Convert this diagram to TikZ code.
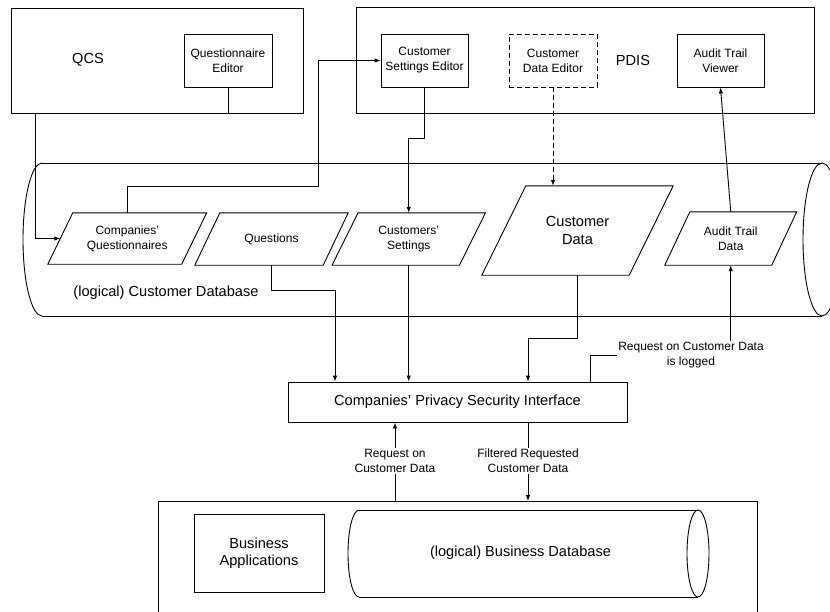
\documentclass[tikz,border=0pt]{standalone}
\usepackage{fontspec}
\setmainfont{Liberation Sans}
\usetikzlibrary{arrows.meta,calc}
\newcommand\smallfont{\fontsize{12}{15}\selectfont}
\newcommand\bigfont{\fontsize{14.6}{17.5}\selectfont}
\newcommand\parashape[2]{\draw[ln] ([xshift=#2]#1.north west) -- ([xshift=#2]#1.north east) -- ([xshift=-#2]#1.south east) -- ([xshift=-#2]#1.south west) -- cycle;}
\begin{document}
\begin{tikzpicture}[x=1pt,y=-1pt,
 ln/.style={line width=0.9pt},
 arr/.style={ln,-{Latex[length=6pt,width=4.5pt]}},
 box/.style={draw,ln,inner sep=0pt,align=center,font=\smallfont},
 frame/.style={draw,ln,inner sep=0pt},
 para/.style={inner sep=0pt,align=center,font=\smallfont},
 lbl/.style={inner sep=1pt,align=center,font=\smallfont},
 big/.style={font=\bigfont},
 dashbox/.style={dash pattern=on 5pt off 3pt}
]
\useasboundingbox (0,0) rectangle (830,611);
\clip (0,0) rectangle (830,611);

% top systems
\node[frame,minimum width=292pt,minimum height=105pt] (qcs) at (157,60.5) {};
\node[big] (qcsl) at (88,60) {QCS};
\node[box,minimum width=88pt,minimum height=53pt] (qed) at (228,60.5) {Questionnaire\\Editor};
\node[frame,minimum width=458pt,minimum height=106pt] (pdis) at (585,60) {};
\node[big] (pdisl) at (633,60) {PDIS};
\node[box,minimum width=87pt,minimum height=53pt] (cse) at (424.5,60.5) {Customer\\Settings Editor};
\node[box,dashbox,minimum width=88pt,minimum height=53pt] (cde) at (553,60.5) {Customer\\Data Editor};
\node[box,minimum width=87pt,minimum height=53pt] (atv) at (720.5,60.5) {Audit Trail\\Viewer};

% customer database cylinder
\draw[ln] (42,163) -- (822,163);
\draw[ln] (42,316) -- (822,316);
\begin{scope}
\clip (0,150) rectangle (42,330);
\draw[ln] (42,239.5) ellipse [x radius=19pt,y radius=76.5pt];
\end{scope}
\draw[ln] (822,239.5) ellipse [x radius=19pt,y radius=76.5pt];
\node[big] (cdb) at (166,293) {(logical) Customer Database};

% data items
\node[para,minimum width=133.5pt,minimum height=51pt] (cq) at (127.25,238.5) {Companies’\\Questionnaires};
\parashape{cq}{12.5pt}
\node[para,minimum width=128pt,minimum height=52pt] (ques) at (271.5,239) {Questions};
\parashape{ques}{12.5pt}
\node[para,minimum width=127pt,minimum height=52pt] (cs) at (408.75,239) {Customers’\\Settings};
\parashape{cs}{13pt}
\node[para,big,minimum width=147pt,minimum height=89pt] (cd) at (577.5,230.5) {Customer\\Data};
\parashape{cd}{22pt}
\node[para,minimum width=106.5pt,minimum height=53pt] (atd) at (730.75,238.5) {Audit Trail\\Data};
\parashape{atd}{12.5pt}

% interface
\node[box,big,minimum width=339pt,minimum height=40pt] (iface) at (457.5,402) {Companies’ Privacy Security Interface};
\node[lbl] (logged) at (691,355) {Request on Customer Data\\is logged};
\node[lbl] (req) at (395,461) {Request on\\Customer Data};
\node[lbl] (filt) at (528,461) {Filtered Requested\\Customer Data};

% business
\node[frame,minimum width=599pt,minimum height=150pt,anchor=north west] (biz) at (158,501) {};
\node[box,big,minimum width=130pt,minimum height=78pt] (bapp) at (259,553) {Business\\Applications};
\draw[ln] (359,510) -- (698,510);
\draw[ln] (359,597) -- (698,597);
\begin{scope}
\clip (300,500) rectangle (359,605);
\draw[ln] (359,553.5) ellipse [x radius=11pt,y radius=43.5pt];
\end{scope}
\draw[ln] (698,553.5) ellipse [x radius=11pt,y radius=43.5pt];
\node[big] (bdb) at (520.5,553) {(logical) Business Database};

% helper coordinates
\coordinate (qx) at (35,0);
\coordinate (sx) at (318,186);
\coordinate (csb) at (0,138);
\coordinate (qbend) at (0,290);
\coordinate (qx2) at (335,0);
\coordinate (cdbend) at (0,338);
\coordinate (lgx) at (590,0);

% connectors
\draw[arr] (qed.south) |- (qx |- qcs.south) -- (qx |- cq.west) -- (cq.west);
\draw[arr] (cq.north) |- (sx) |- (cse.west);
\draw[arr] (cse.south) -- (cse.south |- csb) -| (cs.north);
\draw[arr,dashbox] (cde.south) -- (cde.south |- cd.north);
\draw[arr] (atd.north) -- (atv.south);
\draw[arr] (ques.south) -- (ques.south |- qbend) -| (qx2 |- iface.north);
\draw[arr] (cs.south) -- (cs.south |- iface.north);
\draw[arr] (cd.south) -- (cd.south |- cdbend) -| (filt.north |- iface.north);
\draw[ln] (lgx |- iface.north) |- (logged.west);
\draw[arr] (atd.south |- logged.north) -- (atd.south);
\draw[arr] (req.north) -- (req.north |- iface.south);
\draw[ln] (req.south) -- (req.south |- biz.north);
\draw[ln] (filt.north |- iface.south) -- (filt.north);
\draw[arr] (filt.south) -- (filt.south |- biz.north);
\end{tikzpicture}
\end{document}
